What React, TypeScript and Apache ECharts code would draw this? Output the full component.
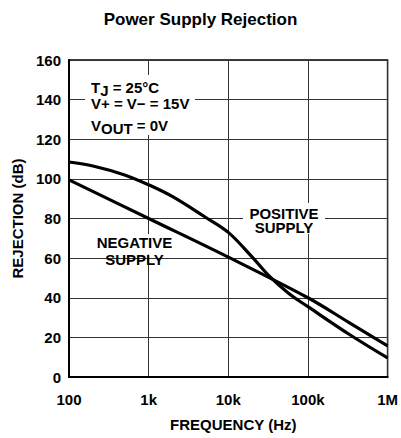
import React, { useEffect, useRef } from "react";
import * as echarts from "echarts";

const titleText = "Power Supply Rejection";
const xAxisName = "FREQUENCY (Hz)";
const yAxisName = "REJECTION (dB)";

const freqTicks = [100, 1000, 10000, 100000, 1000000];
const freqTickLabels = ["100", "1k", "10k", "100k", "1M"];

const positiveFreq = [100, 200, 500, 1000, 2000, 5000, 10000, 20000, 32500, 58000, 100000, 325000, 1000000];
const positiveDb = [108.5, 106.5, 102, 97, 91, 81, 73, 60.5, 51, 42, 35.5, 21.7, 9.6];

const negativeFreq = [100, 1000, 10000, 100000, 325000, 1000000];
const negativeDb = [99.5, 80, 60.5, 40, 27.6, 15.7];

const FONT = "'Liberation Sans', Arial, Helvetica, sans-serif";

export default function App() {
  const ref = useRef<HTMLDivElement>(null);
  useEffect(() => {
    if (!ref.current) return;
    const chart = echarts.init(ref.current, null, { renderer: "svg" });
    const textBase = { fontFamily: FONT, fontWeight: "bold", fontSize: 15, fill: "#000" };
    const rich = {
      n: { fontFamily: FONT, fontWeight: "bold", fontSize: 15, lineHeight: 21, fill: "#000" },
      s: { fontFamily: FONT, fontWeight: "bold", fontSize: 15, lineHeight: 14, verticalAlign: "bottom", fill: "#000" },
    };
    const option = {
      animation: false,
      backgroundColor: "#fff",
      title: {
        text: titleText,
        left: "center",
        top: 6,
        textStyle: { fontSize: 17, fontWeight: "bold", fontFamily: FONT, color: "#000" },
      },
      grid: {
        left: 69,
        right: 12,
        top: 60,
        bottom: 61,
        show: true,
        borderColor: "#000",
        borderWidth: 1.5,
        backgroundColor: "transparent",
      },
      xAxis: {
        type: "log",
        logBase: 10,
        min: 100,
        max: 1000000,
        name: xAxisName,
        nameLocation: "middle",
        nameGap: 40,
        nameTextStyle: { fontSize: 15, fontWeight: "bold", fontFamily: FONT, color: "#000", padding: [0, 0, 0, 10] },
        axisLine: { show: true, onZero: false, lineStyle: { color: "#000", width: 2 } },
        axisTick: { show: false },
        minorTick: { show: false },
        splitLine: { show: true, lineStyle: { color: "#333", width: 1 } },
        axisLabel: {
          margin: 15,
          fontSize: 15,
          fontWeight: "bold",
          fontFamily: FONT,
          color: "#000",
          formatter: (v: number) => {
            const idx = freqTicks.findIndex((t) => Math.abs(Math.log10(t) - Math.log10(v)) < 1e-6);
            return idx >= 0 ? freqTickLabels[idx] : "";
          },
        },
      },
      yAxis: {
        type: "value",
        min: 0,
        max: 160,
        interval: 20,
        name: yAxisName,
        nameLocation: "middle",
        nameGap: 40,
        nameTextStyle: { fontSize: 15, fontWeight: "bold", fontFamily: FONT, color: "#000" },
        axisLine: { show: true, onZero: false, lineStyle: { color: "#000", width: 2 } },
        axisTick: { show: false },
        splitLine: { show: true, lineStyle: { color: "#333", width: 1 } },
        axisLabel: { margin: 8, fontSize: 15, fontWeight: "bold", fontFamily: FONT, color: "#000" },
      },
      series: [
        {
          name: "Positive Supply",
          type: "line",
          data: positiveFreq.map((f, i) => [f, positiveDb[i]]),
          smooth: 0.35,
          showSymbol: false,
          symbol: "none",
          lineStyle: { color: "#000", width: 3.2 },
          z: 3,
        },
        {
          name: "Negative Supply",
          type: "line",
          data: negativeFreq.map((f, i) => [f, negativeDb[i]]),
          smooth: 0.35,
          showSymbol: false,
          symbol: "none",
          lineStyle: { color: "#000", width: 3.2 },
          z: 3,
        },
      ],
      graphic: [
        { type: "rect", z: 1, shape: { x: 85, y: 75, width: 110, height: 60 }, style: { fill: "#fff" } },
        { type: "rect", z: 1, shape: { x: 243, y: 203, width: 82, height: 31 }, style: { fill: "#fff" } },
        { type: "rect", z: 1, shape: { x: 90, y: 234, width: 87, height: 20.5 }, style: { fill: "#fff" } },
        {
          type: "text",
          z: 5,
          x: 91,
          y: 87.5,
          style: { ...textBase, text: "{n|T}{s|J}{n| = 25°C}", rich, align: "left", verticalAlign: "middle" },
        },
        {
          type: "text",
          z: 5,
          x: 91,
          y: 103.5,
          style: { ...textBase, text: "V+ = V− = 15V", align: "left", verticalAlign: "middle" },
        },
        {
          type: "text",
          z: 5,
          x: 91,
          y: 125,
          style: { ...textBase, text: "{n|V}{s|OUT}{n| = 0V}", rich, align: "left", verticalAlign: "middle" },
        },
        {
          type: "text",
          z: 5,
          x: 284,
          y: 220.5,
          style: { ...textBase, text: "POSITIVE\nSUPPLY", lineHeight: 14, align: "center", verticalAlign: "middle" },
        },
        {
          type: "text",
          z: 5,
          x: 134.5,
          y: 251,
          style: { ...textBase, text: "NEGATIVE\nSUPPLY", lineHeight: 17, align: "center", verticalAlign: "middle" },
        },
      ],
    };
    chart.setOption(option as any);
    return () => chart.dispose();
  }, []);
  return (
    <div
      ref={ref}
      style={{ position: "absolute", left: 0, top: 0, width: 401, height: 438, background: "#fff" }}
    />
  );
}
